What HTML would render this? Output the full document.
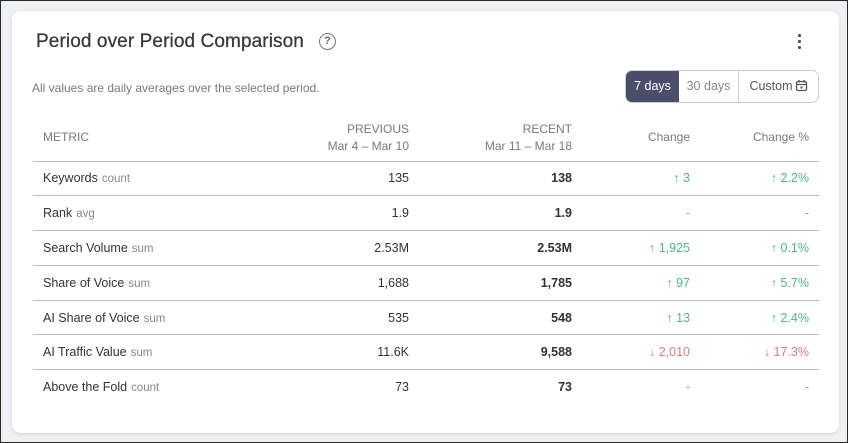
<!DOCTYPE html>
<html><head><style>
*{box-sizing:border-box;margin:0;padding:0}
html,body{width:848px;height:443px;overflow:hidden}
body{background:#eef0f3;font-family:"Liberation Sans",sans-serif;border:1px solid #2a2a2a;position:relative}
.card{position:absolute;left:11px;top:10px;width:827px;height:422px;background:#fff;border-radius:9px;box-shadow:0 1px 3px rgba(0,0,0,0.12)}
.title{position:absolute;left:24px;top:20px;font-size:19px;color:#3a3a3a;font-weight:normal;letter-spacing:0.1px;-webkit-text-stroke:0.3px #3a3a3a}
.help{position:absolute;left:307px;top:22px;width:17px;height:17px;border:1.5px solid #777;border-radius:50%;font-size:11px;color:#666;text-align:center;line-height:14px;font-weight:bold}
.dots{position:absolute;left:786px;top:23px;width:3px}
.dots i{display:block;width:3px;height:3px;background:#444;border-radius:50%;margin-bottom:3px}
.sub{position:absolute;left:20px;top:70px;font-size:12px;color:#7a7a7a}
.seg{position:absolute;left:613px;top:59px;width:194px;height:33px;border:1px solid #ccc;border-radius:7px;overflow:hidden;display:flex;font-size:12.5px}
.seg div{height:100%;line-height:31px;text-align:center}
.s1{width:53px;background:#4a4e6b;color:#fff}
.s2{width:60px;color:#888;border-right:1px solid #ccc}
.s3{flex:1;color:#555}
.s3 svg{vertical-align:-2px;margin-left:2px}
table{position:absolute;left:21px;top:104px;width:786px;border-collapse:collapse;font-size:12.5px}
th{font-weight:normal;color:#7a7a7a;font-size:12px;height:46px;line-height:17px;text-align:right;border-bottom:1px solid #bbb;vertical-align:middle}
th.m{text-align:left;padding-left:10px}
td{height:34.8px;border-bottom:1px solid #bbb;text-align:right;color:#333}
tr:last-child td{border-bottom:none}
td.m{text-align:left;padding-left:10px;color:#333}
td.m span{color:#888;font-size:11.5px;margin-left:4px}
b{font-weight:bold;color:#333}
.up{color:#4fb583}.dn{color:#e07b7b}.na{color:#999}
.c1{width:226px}.c2{width:150px}.c3{width:163px}.c4{width:118px}.c5{padding-right:10px}
</style></head><body>
<div class="card">
<div class="title">Period over Period Comparison</div>
<div class="help">?</div>
<div class="dots"><i></i><i></i><i></i></div>
<div class="sub">All values are daily averages over the selected period.</div>
<div class="seg"><div class="s1">7 days</div><div class="s2">30 days</div><div class="s3">Custom<svg width="13" height="13" viewBox="0 0 13 13"><rect x="1.5" y="2.5" width="10" height="9" rx="1.5" fill="none" stroke="#555" stroke-width="1.3"/><line x1="1.5" y1="5.5" x2="11.5" y2="5.5" stroke="#555" stroke-width="1.2"/><line x1="4" y1="1" x2="4" y2="3.5" stroke="#555" stroke-width="1.3"/><line x1="9" y1="1" x2="9" y2="3.5" stroke="#555" stroke-width="1.3"/><rect x="5.5" y="7.5" width="2" height="2" fill="#555"/></svg></div></div>
<table>
<tr><th class="m c1">METRIC</th><th class="c2">PREVIOUS<br>Mar 4 – Mar 10</th><th class="c3">RECENT<br>Mar 11 – Mar 18</th><th class="c4">Change</th><th class="c5">Change %</th></tr>
<tr><td class="m">Keywords<span>count</span></td><td>135</td><td><b>138</b></td><td class="up">↑ 3</td><td class="up c5">↑ 2.2%</td></tr>
<tr><td class="m">Rank<span>avg</span></td><td>1.9</td><td><b>1.9</b></td><td class="na">-</td><td class="na c5">-</td></tr>
<tr><td class="m">Search Volume<span>sum</span></td><td>2.53M</td><td><b>2.53M</b></td><td class="up">↑ 1,925</td><td class="up c5">↑ 0.1%</td></tr>
<tr><td class="m">Share of Voice<span>sum</span></td><td>1,688</td><td><b>1,785</b></td><td class="up">↑ 97</td><td class="up c5">↑ 5.7%</td></tr>
<tr><td class="m">AI Share of Voice<span>sum</span></td><td>535</td><td><b>548</b></td><td class="up">↑ 13</td><td class="up c5">↑ 2.4%</td></tr>
<tr><td class="m">AI Traffic Value<span>sum</span></td><td>11.6K</td><td><b>9,588</b></td><td class="dn">↓ 2,010</td><td class="dn c5">↓ 17.3%</td></tr>
<tr><td class="m">Above the Fold<span>count</span></td><td>73</td><td><b>73</b></td><td class="na">-</td><td class="na c5">-</td></tr>
</table>
</div>
</body></html>
